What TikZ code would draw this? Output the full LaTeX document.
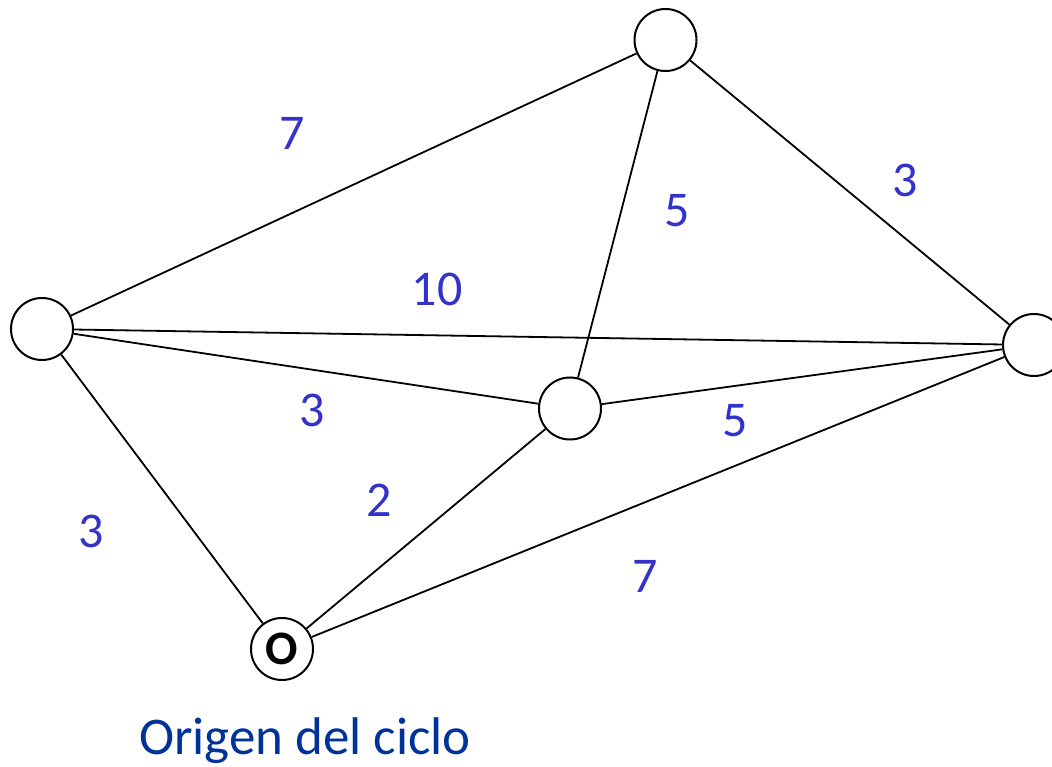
\documentclass[tikz,border=0pt]{standalone}
\usepackage{fontspec}
\setmainfont{Carlito}
\definecolor{lblblue}{RGB}{51,51,204}
\definecolor{origblue}{RGB}{0,51,153}
\begin{document}
\begin{tikzpicture}[x=1pt,y=-1pt,
  vert/.style={circle,draw,line width=2pt,minimum size=62pt,inner sep=0pt,fill=white},
  edge/.style={line width=1.8pt},
  wlabel/.style={text=lblblue,font=\fontsize{50}{60}\selectfont,inner sep=0pt}]
\useasboundingbox (0,0) rectangle (1052,767);
\clip (0,0) rectangle (1052,767);
\fill[white] (0,0) rectangle (1052,767);
\node[vert] (T) at (665.5,40) {};
\node[vert] (L) at (42,329) {};
\node[vert] (R) at (1034,345) {};
\node[vert] (M) at (570,408.5) {};
\node[vert,font=\fontsize{48}{52}\selectfont\bfseries] (O) at (282,649) {O};
\draw[edge] (L) -- (T);
\draw[edge] (T) -- (R);
\draw[edge] (T) -- (M);
\draw[edge] (L) -- (R);
\draw[edge] (L) -- (M);
\draw[edge] (L) -- (O);
\draw[edge] (M) -- (R);
\draw[edge] (M) -- (O);
\draw[edge] (O) -- (R);
\node[wlabel] (w1) at (292,133) {7};
\node[wlabel] (w2) at (677,211) {5};
\node[wlabel] (w3) at (905,180) {3};
\node[wlabel] (w4) at (437,289) {10};
\node[wlabel] (w5) at (312,410) {3};
\node[wlabel] (w6) at (735,421) {5};
\node[wlabel] (w7) at (379,500) {2};
\node[wlabel] (w8) at (91,531) {3};
\node[wlabel] (w9) at (645.5,576) {7};
\node[text=origblue,font=\fontsize{53}{60}\selectfont,inner sep=0pt,anchor=base] (cap) at (305,754) {Origen del ciclo};
\end{tikzpicture}
\end{document}
